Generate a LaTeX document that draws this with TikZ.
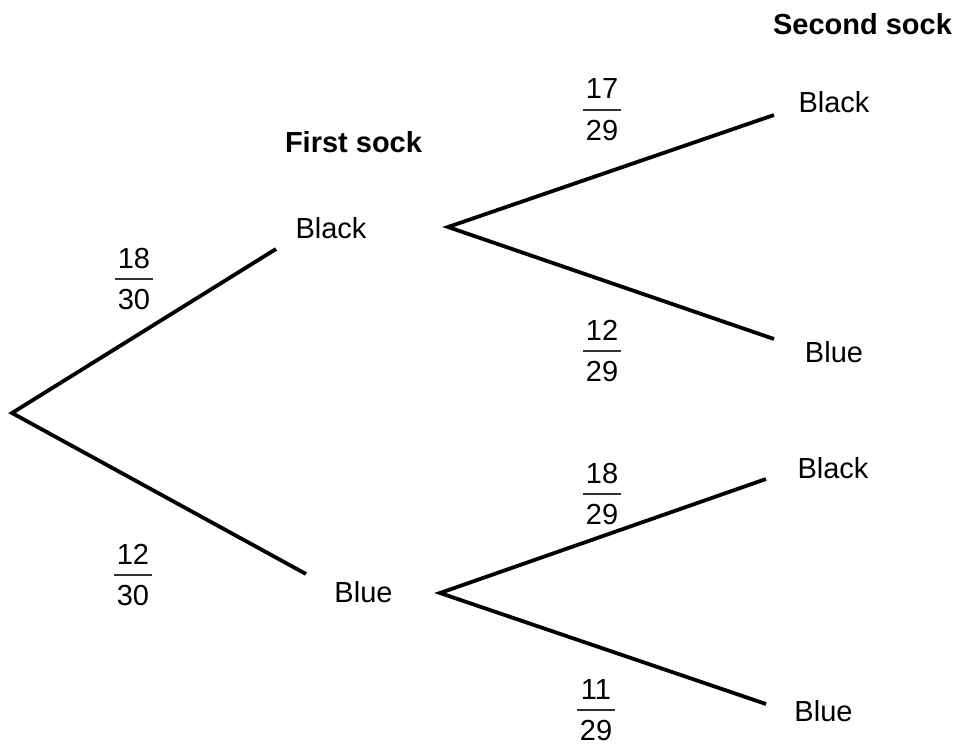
\documentclass[tikz,border=0pt]{standalone}
\usepackage{fontspec}
\setmainfont{Liberation Sans}
\usepackage{array}
\usepackage{colortbl}
\setlength{\arrayrulewidth}{1.5pt}
\newcommand{\myfr}[2]{{\arrayrulecolor{black!80}\begin{tabular}[t]{@{\hspace{3pt}}c@{\hspace{3pt}}}#1\\\hline\rule{0pt}{30pt}#2\end{tabular}}}
\begin{document}
\begin{tikzpicture}[x=1pt,y=-1pt,
  lbl/.style={inner sep=0pt,anchor=base,font=\fontsize{29}{34}\selectfont},
  hdr/.style={lbl,font=\fontsize{29}{34}\selectfont\bfseries},
  frac/.style={lbl},
  branch/.style={line width=3.8pt}]
\useasboundingbox (0,0) rectangle (957,746);
% headings
\node[hdr] (h1) at (353.5,153) {First sock};
\node[hdr] (h2) at (862.5,35) {Second sock};
% level 1 labels
\node[lbl] (bk) at (331,238) {Black};
\node[lbl] (bl) at (363.5,602) {Blue};
% level 2 labels
\node[lbl] (bkbk) at (834,113) {Black};
\node[lbl] (bkbl) at (834,362) {Blue};
\node[lbl] (blbk) at (833,478) {Black};
\node[lbl] (blbl) at (823.5,721) {Blue};
% branch points
\coordinate (r) at (12,413);
\coordinate (e1) at (276,249);
\coordinate (e2) at (306,574);
\coordinate (s1) at (448,227);
\coordinate (s2) at (440,593);
\coordinate (t1) at (774,115);
\coordinate (t2) at (774,339);
\coordinate (t3) at (766,479);
\coordinate (t4) at (766,704);
\draw[branch] (e1) -- (r) -- (e2);
\draw[branch] (t1) -- (s1) -- (t2);
\draw[branch] (t3) -- (s2) -- (t4);
% probabilities
\node[frac] (p1) at (134,268) {\myfr{18}{30}};
\node[frac] (p2) at (133,564) {\myfr{12}{30}};
\node[frac] (p3) at (602,99) {\myfr{17}{29}};
\node[frac] (p4) at (602,340) {\myfr{12}{29}};
\node[frac] (p5) at (602,483) {\myfr{18}{29}};
\node[frac] (p6) at (596,699) {\myfr{11}{29}};
\end{tikzpicture}
\end{document}
